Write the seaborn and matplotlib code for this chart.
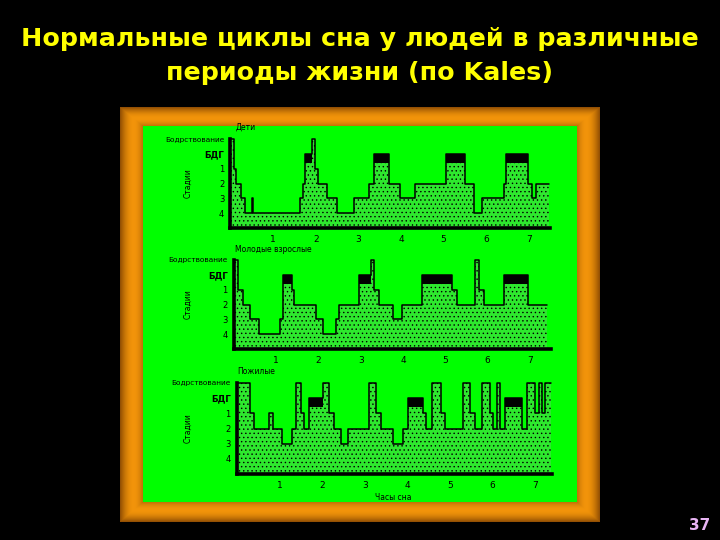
import numpy as np
import matplotlib
matplotlib.use("Agg")
import matplotlib.pyplot as plt
import seaborn as sns
import pandas as pd

# ---------------- data ----------------
title_text = "Нормальные циклы сна у людей в различные\nпериоды жизни (по Kales)"
panel_titles = ["Дети", "Молодые взрослые", "Пожилые"]
stage_codes = ["4", "3", "2", "1", "R", "W"]
stage_labels = ["4", "3", "2", "1", "БДГ", "Бодрствование"]
hour_ticks = [1, 2, 3, 4, 5, 6, 7]
hour_labels = ["1", "2", "3", "4", "5", "6", "7"]
y_label = "Стадии"
x_label = "Часы сна"
page_number = "37"

child_t = [0.00, 0.08, 0.14, 0.25, 0.35, 0.50, 0.53, 1.64, 1.71, 1.76, 1.92,
           1.98, 2.05, 2.26, 2.50, 2.89, 3.24, 3.36, 3.71, 3.98, 4.34, 5.05,
           5.50, 5.72, 5.90, 6.42, 6.46, 6.98, 7.08, 7.16, 7.48]
child_s = ["W", "1", "2", "3", "4", "3", "4", "3", "2", "R", "W",
           "1", "2", "3", "4", "3", "2", "R", "2", "3", "2", "R",
           "2", "4", "3", "2", "R", "2", "3", "2", "2"]

young_t = [0.00, 0.10, 0.22, 0.38, 0.60, 1.08, 1.16, 1.37, 1.42, 1.95, 2.10,
           2.42, 2.49, 2.96, 3.24, 3.31, 3.42, 3.75, 3.98, 4.45, 5.16, 5.28,
           5.71, 5.79, 5.92, 6.38, 6.96, 7.40]
young_s = ["W", "1", "2", "3", "4", "3", "R", "1", "2", "3", "4",
           "3", "2", "R", "W", "1", "2", "3", "2", "R", "1", "2",
           "W", "1", "2", "R", "2", "2"]

elder_t = [0.00, 0.31, 0.39, 0.75, 0.85, 1.06, 1.30, 1.38, 1.50, 1.57, 1.69,
           2.01, 2.17, 2.28, 2.44, 2.60, 3.11, 3.27, 3.39, 3.66, 3.90, 4.02,
           4.37, 4.45, 4.57, 4.80, 4.88, 5.31, 5.47, 5.59, 5.75, 5.94, 6.02,
           6.10, 6.18, 6.30, 6.69, 6.81, 7.01, 7.09, 7.17, 7.24, 7.38]
elder_s = ["W", "1", "2", "1", "2", "3", "2", "W", "1", "2", "R",
           "W", "1", "2", "3", "2", "W", "1", "2", "3", "2", "R",
           "1", "2", "W", "1", "2", "W", "1", "2", "W", "1", "2",
           "W", "2", "R", "2", "W", "1", "W", "1", "W", "W"]

series = [(child_t, child_s), (young_t, young_s), (elder_t, elder_s)]

# ---------------- figure ----------------
sns.set_style("white")
plt.rcParams['font.family'] = ['DejaVu Sans']
plt.rcParams['hatch.color'] = 'black'
plt.rcParams['hatch.linewidth'] = 0.5

W, H = 720, 540
fig = plt.figure(figsize=(7.2, 5.4), dpi=100, facecolor='black')


def box(l, t, r, b):
    return [l / W, 1 - b / H, (r - l) / W, (b - t) / H]


# gold frame
fx0, fy0, fx1, fy1 = 120, 107, 600, 522
fw, fh = fx1 - fx0, fy1 - fy0
frame_ax = fig.add_axes(box(fx0, fy0, fx1, fy1), zorder=-2)
yy, xx = np.mgrid[0:fh, 0:fw]
d = np.minimum.reduce([xx / 23.0, (fw - 1 - xx) / 23.0, yy / 19.0, (fh - 1 - yy) / 20.0])
d = np.clip(d, 0, 1)
shade = np.sin(np.pi * (0.1 + 0.7 * d))
dark = np.array([0.42, 0.20, 0.0])
bright = np.array([0.95, 0.58, 0.04])
img = dark[None, None, :] + (bright - dark)[None, None, :] * shade[:, :, None]
frame_ax.imshow(np.clip(img, 0, 1), aspect='auto', interpolation='bilinear')
frame_ax.axis('off')

# green panel
green_ax = fig.add_axes(box(143, 126, 577, 502), zorder=-1)
green_ax.set_facecolor('#00ff00')
green_ax.set_xticks([])
green_ax.set_yticks([])
for s in green_ax.spines.values():
    s.set_visible(False)

# panel geometry (pixels)
panels = [
    dict(l=230.5, r=550, t=139, b=228, xmax=7.5, title_x=236, title_y=132),
    dict(l=234, r=551, t=260, b=349, xmax=7.5, title_x=235, title_y=254),
    dict(l=237, r=552, t=383, b=474, xmax=7.4, title_x=237, title_y=376),
]

for (times, stages), p, ptitle in zip(series, panels, panel_titles):
    ax = fig.add_axes(box(p['l'], p['t'], p['r'], p['b']))
    ax.set_facecolor('none')
    vals = [stage_codes.index(s) + 1 for s in stages]
    df = pd.DataFrame({"t": times, "stage": vals})
    ax.fill_between(df["t"], 0, df["stage"], step='post', facecolor='#2ee82e',
                    edgecolor='black', hatch='....', linewidth=0)
    for i in range(len(times) - 1):
        if stages[i] == "R":
            ax.fill_between([times[i], times[i + 1]], 4.4, 5.0, color='black', lw=0)
    sns.lineplot(data=df, x="t", y="stage", drawstyle='steps-post', color='black',
                 lw=1.1, estimator=None, sort=False, ax=ax)
    ax.set_xlim(0, p['xmax'])
    ax.set_ylim(0, 6)
    for s in ['top', 'right']:
        ax.spines[s].set_visible(False)
    for s in ['left', 'bottom']:
        ax.spines[s].set_linewidth(2.6)
        ax.spines[s].set_color('black')
    ax.spines['left'].set_bounds(0, 6)
    ax.set_yticks(range(1, 7))
    ax.set_yticklabels(stage_labels)
    for lab, txt in zip(ax.get_yticklabels(), stage_labels):
        if txt == "Бодрствование":
            lab.set_fontsize(5.3)
        elif txt == "БДГ":
            lab.set_fontsize(6.3)
            lab.set_fontweight('bold')
        else:
            lab.set_fontsize(6.0)
    ax.set_xticks(hour_ticks)
    ax.set_xticklabels(hour_labels, fontsize=6.5)
    ax.tick_params(axis='both', colors='black', length=3, width=0.8, pad=1.5, direction='out')
    ax.tick_params(axis='x', pad=2)
    ax.set_xlabel("")
    ax.set_ylabel(y_label, fontsize=5.5, color='black')
    ax.yaxis.set_label_coords((193 - p['l']) / (p['r'] - p['l']), 0.5)
    for line in ax.get_lines():
        line.set_clip_on(False)
    fig.text(p['title_x'] / W, 1 - p['title_y'] / H, ptitle, fontsize=5.5,
             color='black', ha='left', va='bottom')

fig.text(393 / W, 1 - 497 / H, x_label, fontsize=5.5, color='black', ha='center', va='center')

fig.text(0.5, 1 - 56 / H, title_text, ha='center', va='center', color='#ffff00',
         fontsize=18.3, fontweight='bold', linespacing=1.5)

fig.text(700 / W, 1 - 525 / H, page_number, ha='center', va='center', color='#e8b4f4',
         fontsize=11, fontweight='bold')

fig.savefig("out.png", dpi=100, facecolor='black')
